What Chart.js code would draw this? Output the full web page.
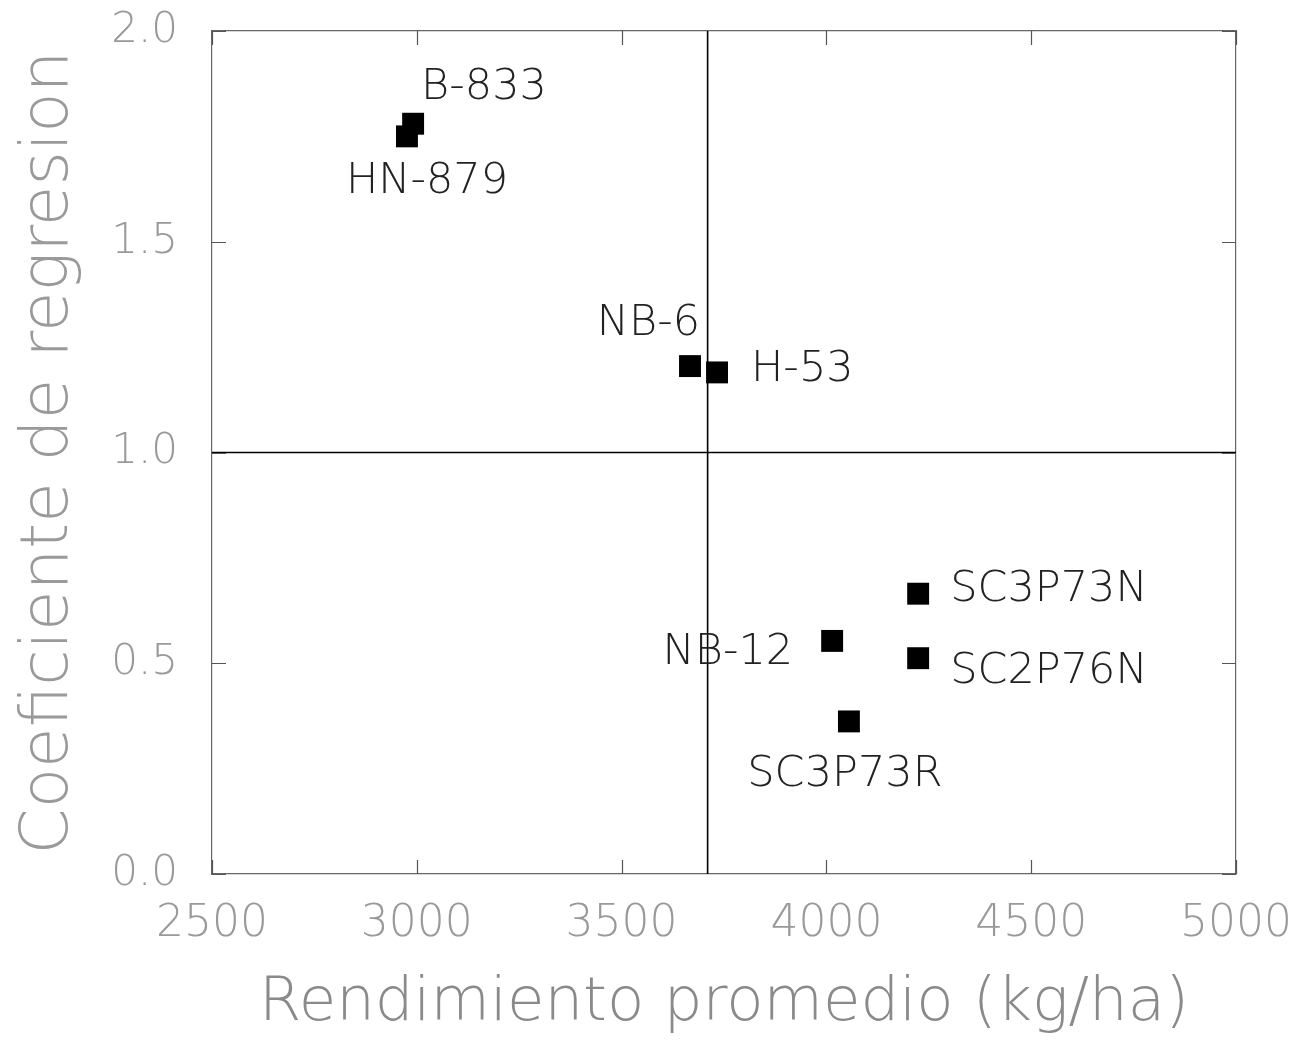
<!DOCTYPE html>
<html>
<head>
<meta charset="utf-8">
<script src="https://cdn.jsdelivr.net/npm/chart.js@4.4.1/dist/chart.umd.min.js"></script>
<style>
  html, body { margin: 0; padding: 0; background: #fff; }
</style>
</head>
<body>
<canvas id="chart" width="1302" height="1045"></canvas>
<script>
// hybrids: mean yield vs. regression (stability) coefficient
const hybrids = ['B-833', 'HN-879', 'NB-6', 'H-53', 'SC3P73N', 'NB-12', 'SC2P76N', 'SC3P73R'];
const yieldKgHa = [2991, 2976, 3667, 3733, 4224, 4014, 4224, 4055];
const regressionCoef = [1.78, 1.75, 1.205, 1.19, 0.665, 0.553, 0.512, 0.362];

// reference lines: overall mean yield and b = 1
const meanYield = 3710;
const unitSlope = 1.0;

const xTicks = [2500, 3000, 3500, 4000, 4500, 5000];
const yTicks = [0.0, 0.5, 1.0, 1.5, 2.0];

// where each name sits relative to its marker: dx, dy, align
const labelPlacement = {
  'B-833':   [8, -36, 'left'],
  'HN-879':  [20, 45, 'center'],
  'NB-6':    [10, -42, 'right'],
  'H-53':    [34, -3, 'left'],
  'SC3P73N': [32, -4, 'left'],
  'NB-12':   [-39, 12, 'right'],
  'SC2P76N': [32, 14, 'left'],
  'SC3P73R': [-4, 53, 'center']
};

const FONT = '"DejaVu Sans", "Liberation Sans", sans-serif';

const hybridLabels = {
  id: 'hybridLabels',
  afterDatasetsDraw(chart) {
    const ctx = chart.ctx;
    const meta = chart.getDatasetMeta(0);
    ctx.save();
    ctx.font = '200 43px ' + FONT;
    ctx.fillStyle = '#222';
    ctx.textBaseline = 'middle';
    meta.data.forEach((pt, i) => {
      const [dx, dy, align] = labelPlacement[hybrids[i]];
      ctx.textAlign = align;
      ctx.fillText(hybrids[i], pt.x + dx, pt.y + dy);
    });
    ctx.restore();
  }
};

// short tick marks pointing into the frame on all four sides
const innerTicks = {
  id: 'innerTicks',
  afterDatasetsDraw(chart) {
    const { ctx, chartArea, scales } = chart;
    const { left, right, top, bottom } = chartArea;
    const len = 14;
    ctx.save();
    ctx.strokeStyle = '#555';
    ctx.lineWidth = 1.2;
    ctx.beginPath();
    xTicks.forEach(v => {
      const px = Math.round(scales.x.getPixelForValue(v)) + 0.5;
      ctx.moveTo(px, bottom); ctx.lineTo(px, bottom - len);
      ctx.moveTo(px, top); ctx.lineTo(px, top + len);
    });
    yTicks.forEach(v => {
      const py = Math.round(scales.y.getPixelForValue(v)) + 0.5;
      ctx.moveTo(left, py); ctx.lineTo(left + len, py);
      ctx.moveTo(right, py); ctx.lineTo(right - len, py);
    });
    ctx.stroke();
    ctx.restore();
  }
};

const points = hybrids.map((h, i) => ({ x: yieldKgHa[i], y: regressionCoef[i] }));

const frameBorder = { display: true, color: '#666', width: 1.2 };

// invisible outer tick marks only push the labels away from the frame
const spacerGrid = len => ({
  display: true,
  drawOnChartArea: false,
  drawTicks: true,
  tickLength: len,
  tickColor: 'rgba(0,0,0,0)'
});

new Chart(document.getElementById('chart'), {
  type: 'scatter',
  data: {
    datasets: [
      {
        data: points,
        pointStyle: 'rect',
        pointRadius: 15.5,
        backgroundColor: '#000',
        borderWidth: 0
      },
      {
        data: [{ x: meanYield, y: 0 }, { x: meanYield, y: 2 }],
        showLine: true,
        pointRadius: 0,
        borderColor: '#000',
        borderWidth: 1.6
      },
      {
        data: [{ x: 2500, y: unitSlope }, { x: 5000, y: unitSlope }],
        showLine: true,
        pointRadius: 0,
        borderColor: '#000',
        borderWidth: 1.6
      }
    ]
  },
  options: {
    responsive: false,
    animation: false,
    layout: { padding: { left: 0, right: 66, top: 31, bottom: 0 } },
    plugins: {
      legend: { display: false },
      tooltip: { enabled: false }
    },
    scales: {
      x: {
        type: 'linear',
        min: 2500,
        max: 5000,
        afterBuildTicks: s => { s.ticks = xTicks.map(v => ({ value: v })); },
        afterFit: s => { s.height = 171; },
        grid: spacerGrid(24),
        border: frameBorder,
        ticks: {
          color: '#999',
          padding: 0,
          font: { family: FONT, size: 44, weight: 200 },
          callback: v => String(v)
        },
        title: {
          display: true,
          text: 'Rendimiento promedio (kg/ha)',
          color: '#8a8a8a',
          font: { family: FONT, size: 61, weight: 200 },
          padding: { top: 0, bottom: 4 }
        }
      },
      y: {
        type: 'linear',
        min: 0,
        max: 2,
        afterBuildTicks: s => { s.ticks = yTicks.map(v => ({ value: v })); },
        afterFit: s => { s.width = 212; },
        grid: spacerGrid(34),
        border: frameBorder,
        ticks: {
          color: '#999',
          padding: 0,
          font: { family: FONT, size: 42, weight: 200 },
          callback: v => v.toFixed(1)
        },
        title: {
          display: true,
          text: 'Coeficiente de regresion',
          color: '#9a9a9a',
          font: { family: FONT, size: 66, weight: 200 },
          padding: { top: 10, bottom: 0 }
        }
      },
      xTop: {
        type: 'linear',
        position: 'top',
        min: 2500,
        max: 5000,
        afterFit: s => { s.height = 0; },
        grid: { display: false },
        border: frameBorder,
        ticks: { display: false }
      },
      yRight: {
        type: 'linear',
        position: 'right',
        min: 0,
        max: 2,
        afterFit: s => { s.width = 0; },
        grid: { display: false },
        border: frameBorder,
        ticks: { display: false }
      }
    }
  },
  plugins: [hybridLabels, innerTicks]
});
</script>
</body>
</html>
